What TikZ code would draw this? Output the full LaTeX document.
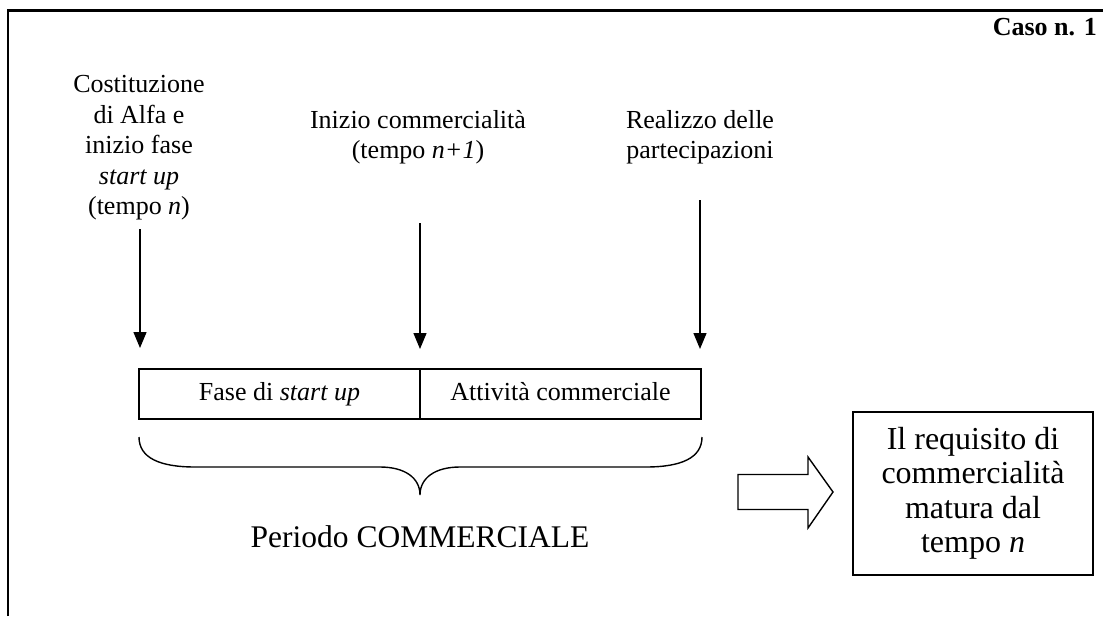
\documentclass[tikz,border=0pt]{standalone}
\usepackage{fontspec}
\setmainfont{Liberation Serif}
\usetikzlibrary{arrows.meta}
\tikzset{
  lbl/.style={align=center, inner sep=0pt, font=\fontsize{26}{30.5}\selectfont},
  phasebox/.style={draw, line width=1.4pt, minimum width=281pt, minimum height=50pt, inner sep=0pt, text height=18pt, text depth=6pt, font=\fontsize{26}{30}\selectfont},
  tline/.style={line width=1.4pt, -{Triangle[length=16pt,width=13pt]}},
  resbox/.style={draw, line width=1.4pt, minimum width=240pt, minimum height=163pt, inner sep=0pt, align=center, font=\fontsize{32}{34.5}\selectfont},
  frame/.style={line width=2.6pt},
  thin/.style={line width=1.4pt}
}
\begin{document}
\begin{tikzpicture}[x=1pt,y=-1pt]
\useasboundingbox (0,0) rectangle (1103,616);
% frame (top and left edges visible)
\draw[frame] (8,616) -- (8,10.5) -- (1103,10.5);
\node[inner sep=0pt, anchor=east, font=\fontsize{26}{30}\selectfont\bfseries] (caso) at (1097,27) {Caso n. 1};
% labels
\node[lbl] (l1) at (139,148) {Costituzione\\di Alfa e\\inizio fase\\\textit{start up}\\(tempo \textit{n})};
\node[lbl] (l2) at (418,137) {Inizio commercialità\\(tempo \textit{n+1})};
\node[lbl] (l3) at (700,137) {Realizzo delle\\partecipazioni};
% timeline boxes
\node[phasebox] (f1) at (279.5,394) {Fase di \textit{start up}};
\node[phasebox] (f2) at (560.5,394) {Attività commerciale};
% arrow start points
\coordinate (a1s) at (140,229);
\coordinate (a1e) at (140,348);
\coordinate (a2s) at (420,223);
\coordinate (a2e) at (420,349);
\coordinate (a3s) at (700,200);
\coordinate (a3e) at (700,349);
\draw[tline] (a1s) -- (a1e);
\draw[tline] (a2s) -- (a2e);
\draw[tline] (a3s) -- (a3e);
% brace
\draw[thin] (139,437) .. controls (139,458) and (160,467) .. (195,467)
  -- (380,467) .. controls (405,467) and (420,478) .. (420,495)
  .. controls (420,478) and (435,467) .. (460,467)
  -- (646,467) .. controls (681,467) and (702,458) .. (702,437);
\node[inner sep=0pt, anchor=base, font=\fontsize{31.5}{34}\selectfont] (per) at (420,547) {Periodo COMMERCIALE};
% hollow arrow
\draw[thin] (738,474.5) -- (808,474.5) -- (808,457) -- (833,492) -- (808,528) -- (808,509.5) -- (738,509.5) -- cycle;
% result box
\node[resbox] (res) at (973,493.5) {Il requisito di\\commercialità\\matura dal\\tempo \textit{n}};
\end{tikzpicture}
\end{document}
